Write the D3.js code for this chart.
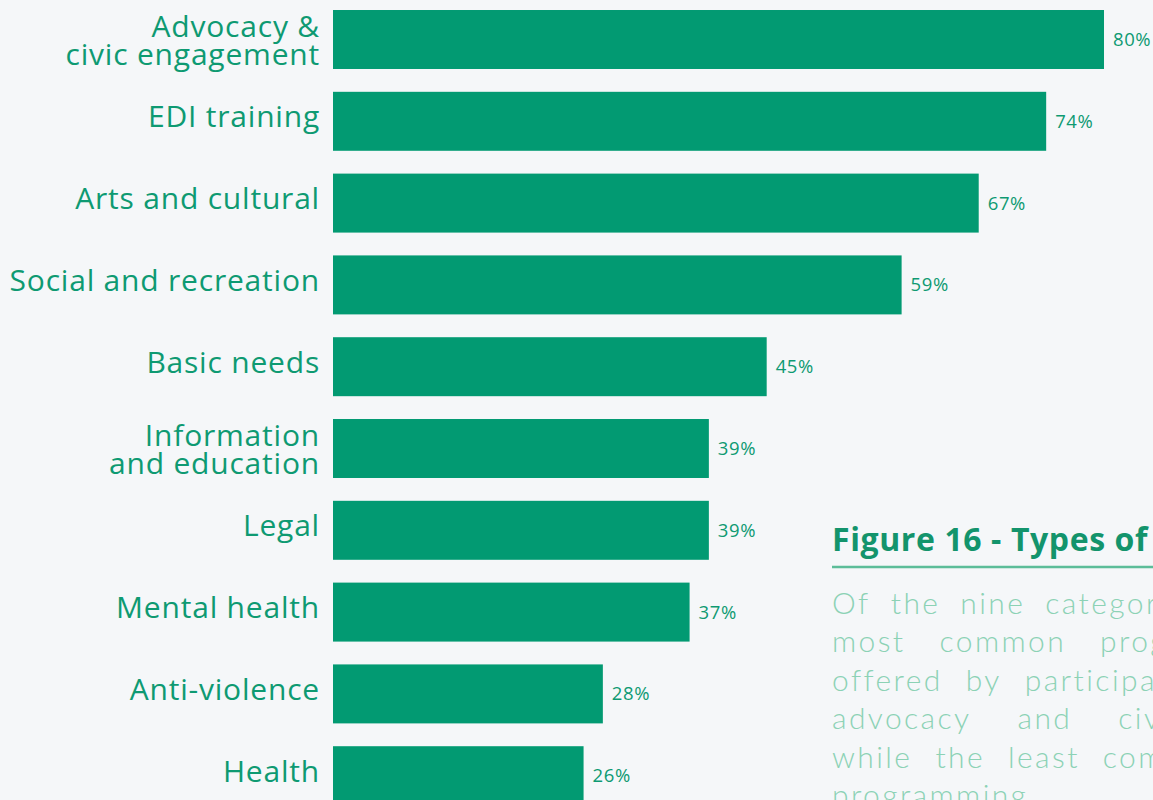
<!DOCTYPE html>
<html>
<head>
<meta charset="utf-8">
<script src="https://cdn.jsdelivr.net/npm/d3@7"></script>
<style>
  html, body { margin: 0; padding: 0; background: #f5f7f9; overflow: hidden; }
  svg { display: block; }
</style>
</head>
<body>
<svg id="chart" width="1153" height="800"></svg>
<script>
// Share of organisations offering each type of programming (%)
const categories = [
  "Advocacy &\ncivic engagement",
  "EDI training",
  "Arts and cultural",
  "Social and recreation",
  "Basic needs",
  "Information\nand education",
  "Legal",
  "Mental health",
  "Anti-violence",
  "Health"
];
const values = [80, 74, 67, 59, 45, 39, 39, 37, 28, 26];

const figureTitle = "Figure 16 - Types of programming";
const summaryLines = [
  "Of the nine categories, the",
  "most common programs",
  "offered by participants were",
  "advocacy and civic engagement,",
  "while the least common was health",
  "programming."
];

const W = 1153, H = 800;
const barColor = "#029a72";
const labelColor = "#0e9a72";
const labelFont = "'Open Sans', 'Noto Sans', sans-serif";

const svg = d3.select("#chart");
svg.append("rect").attr("width", W).attr("height", H).attr("fill", "#f5f7f9");

const x = d3.scaleLinear().domain([0, 80]).range([333, 1104]);
const y = d3.scaleBand()
  .domain(categories)
  .range([-1.4, 816.6])
  .paddingInner(0.279)
  .paddingOuter(0.1395);

const rows = categories.map((c, i) => ({ cat: c, val: values[i] }));

// bars
svg.append("g").selectAll("rect")
  .data(rows)
  .join("rect")
  .attr("x", x(0))
  .attr("y", d => y(d.cat))
  .attr("width", d => x(d.val) - x(0))
  .attr("height", y.bandwidth())
  .attr("fill", barColor);

// value labels
svg.append("g").selectAll("text")
  .data(rows)
  .join("text")
  .attr("x", d => x(d.val) + 9)
  .attr("y", d => y(d.cat) + y.bandwidth() / 2 + 6.5)
  .attr("fill", labelColor)
  .attr("font-family", labelFont)
  .attr("font-size", 18.5)
  .attr("letter-spacing", 0.6)
  .text(d => d.val + "%");

// category labels, right-aligned against the bars
const catG = svg.append("g");
rows.forEach(d => {
  const lines = d.cat.split("\n");
  const cy = y(d.cat) + y.bandwidth() / 2;
  const t = catG.append("text")
    .attr("text-anchor", "end")
    .attr("fill", labelColor)
    .attr("font-family", labelFont)
    .attr("font-size", 30)
    .attr("letter-spacing", 0.8);
  if (lines.length === 1) {
    t.append("tspan").attr("x", 320).attr("y", cy + 6).text(lines[0]);
  } else {
    lines.forEach((ln, k) => {
      t.append("tspan").attr("x", 320).attr("y", cy - 3 + k * 28.5).text(ln);
    });
  }
});

// figure caption block
const capX = 832;
svg.append("text")
  .attr("x", capX)
  .attr("y", 551)
  .attr("fill", "#13946c")
  .attr("font-family", labelFont)
  .attr("font-weight", 700)
  .attr("font-size", 32)
  .attr("letter-spacing", 0.6)
  .text(figureTitle);

svg.append("line")
  .attr("x1", capX).attr("x2", W + 10)
  .attr("y1", 567).attr("y2", 567)
  .attr("stroke", "#5cbd99")
  .attr("stroke-width", 2.5);

// summary paragraph: each line is spread across the caption column
const wordGap = [20, 34, 23, 46, 23, 9];
const para = svg.append("g")
  .attr("fill", "#8cd2b5")
  .attr("font-family", "'Lato', 'Open Sans', sans-serif")
  .attr("font-weight", 300)
  .attr("font-size", 30)
  .attr("letter-spacing", 2.4);

summaryLines.forEach((ln, i) => {
  const words = ln.split(" ");
  const baseY = 614 + i * 38.4;
  let cx = capX;
  words.forEach(w => {
    const t = para.append("text").attr("x", cx).attr("y", baseY).text(w);
    cx += t.node().getComputedTextLength() + wordGap[i];
  });
});
</script>
</body>
</html>
